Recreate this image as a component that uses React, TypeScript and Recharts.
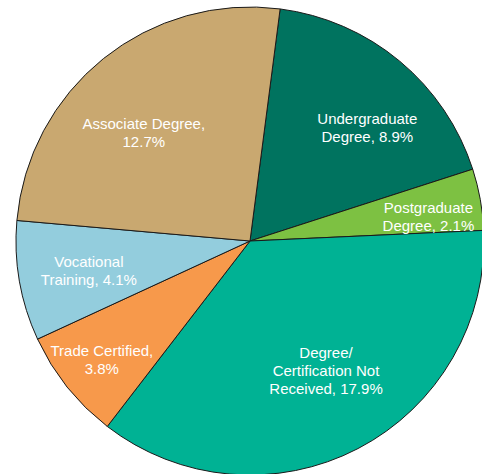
import React from "react";
import { PieChart, Pie, Cell } from "recharts";

const categories = [
  "Undergraduate Degree",
  "Postgraduate Degree",
  "Degree/Certification Not Received",
  "Trade Certified",
  "Vocational Training",
  "Associate Degree",
];
const values = [8.9, 2.1, 17.9, 3.8, 4.1, 12.7];
const labelLines = [
  ["Undergraduate", "Degree, 8.9%"],
  ["Postgraduate", "Degree, 2.1%"],
  ["Degree/", "Certification Not", "Received, 17.9%"],
  ["Trade Certified,", "3.8%"],
  ["Vocational", "Training, 4.1%"],
  ["Associate Degree,", "12.7%"],
];
const colors = ["#00735f", "#7dc142", "#00b294", "#f7994b", "#93cddd", "#c9a870"];

// label layout: [radius ratio, angle tweak in degrees (clockwise)]
const labelLayout = [
  [0.7, 6],
  [0.77, 2.3],
  [0.64, -3],
  [0.81, 0],
  [0.7, -0.5],
  [0.65, -5.5],
];

const data = categories.map((name, i) => ({ name, value: values[i] }));

const RAD = Math.PI / 180;

const renderLabel = (props: any) => {
  const { cx, cy, midAngle, outerRadius, index } = props;
  const [ratio, tweak] = labelLayout[index];
  const ang = midAngle - tweak;
  const r = outerRadius * ratio;
  const x = cx + r * Math.cos(-ang * RAD);
  const y = cy + r * Math.sin(-ang * RAD);
  const lines = labelLines[index];
  const lh = 18;
  const y0 = y - ((lines.length - 1) * lh) / 2;
  return (
    <text
      x={x}
      y={y0}
      fill="#ffffff"
      textAnchor="middle"
      dominantBaseline="central"
      fontFamily="'Liberation Sans', Arial, sans-serif"
      fontSize={15}
    >
      {lines.map((l, i) => (
        <tspan key={i} x={x} y={y0 + i * lh}>
          {l}
        </tspan>
      ))}
    </text>
  );
};

export default function App() {
  return (
    <div style={{ position: "absolute", left: 0, top: 0, width: 482, height: 474, background: "#fff" }}>
      <PieChart width={482} height={474} margin={{ top: 0, right: 0, bottom: 0, left: 0 }}>
        <Pie
          data={data}
          dataKey="value"
          nameKey="name"
          cx={250}
          cy={241}
          outerRadius={234}
          startAngle={82.6}
          endAngle={-277.4}
          stroke="#1a1a1a"
          strokeWidth={1}
          label={renderLabel}
          labelLine={false}
          isAnimationActive={false}
        >
          {data.map((d, i) => (
            <Cell key={d.name} fill={colors[i]} />
          ))}
        </Pie>
      </PieChart>
    </div>
  );
}
